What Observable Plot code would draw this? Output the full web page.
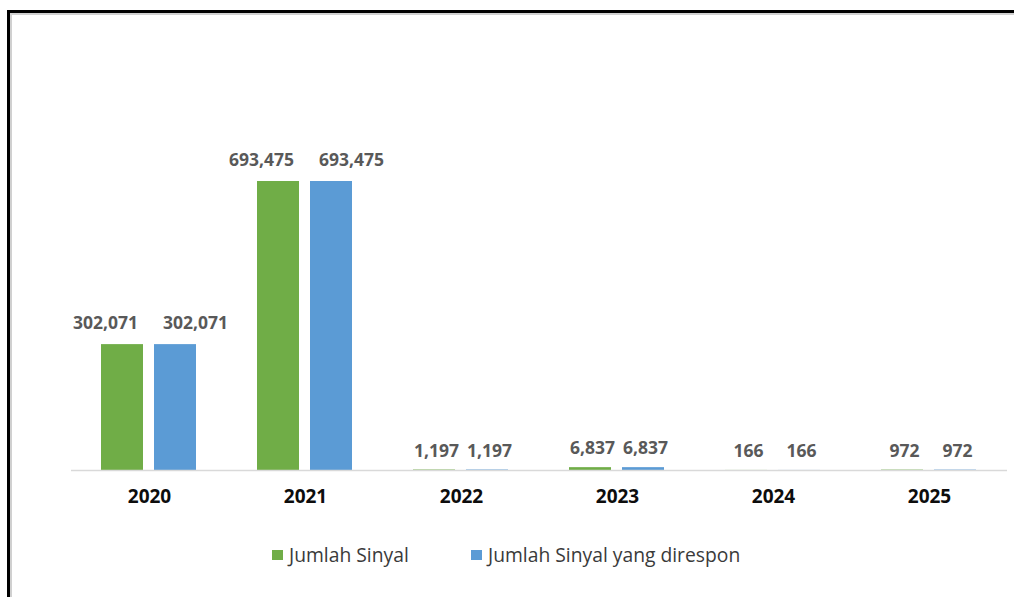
<!DOCTYPE html>
<html>
<head>
<meta charset="utf-8">
<script src="https://cdn.jsdelivr.net/npm/d3@7"></script>
<script src="https://cdn.jsdelivr.net/npm/@observablehq/plot@0.6"></script>
<style>
  html, body { margin: 0; padding: 0; background: #fff; overflow: hidden; }
  #wrap { position: relative; width: 1014px; height: 597px; font-family: "Open Sans", sans-serif; }
  #frame { position: absolute; left: 7px; top: 10px; width: 1100px; height: 700px;
           border-left: 3px solid #000; border-top: 3px solid #000;
           box-shadow: inset 2px 2px 0 #d0d0d0; pointer-events: none; }
  #chart { position: absolute; left: 0; top: 0; }
  #legend { position: absolute; left: 0; top: 530px; width: 1014px; height: 67px; }
  .item { position: absolute; top: 11px; display: flex; align-items: center; font-size: 19.3px; color: #3a3a3a; white-space: nowrap; }
  .sw { width: 11px; height: 10px; margin-right: 6px; }
</style>
</head>
<body>
<div id="wrap">
  <div id="chart"></div>
  <div id="legend"></div>
  <div id="frame"></div>
</div>
<script>
const years = ["2020", "2021", "2022", "2023", "2024", "2025"];
const seriesNames = ["Jumlah Sinyal", "Jumlah Sinyal yang direspon"];
const jumlahSinyal = [302071, 693475, 1197, 6837, 166, 972];
const jumlahDirespon = [302071, 693475, 1197, 6837, 166, 972];
const colors = ["#70ad47", "#5b9bd5"];

const data = [];
years.forEach((y, i) => {
  data.push({year: y, series: seriesNames[0], value: jumlahSinyal[i]});
  data.push({year: y, series: seriesNames[1], value: jumlahDirespon[i]});
});

const fmt = d3.format(",");
const big = d => d.value >= 100000;

const chart = Plot.plot({
  width: 1014,
  height: 530,
  marginLeft: 70,
  marginRight: 7,
  marginTop: 136.6,
  marginBottom: 60,
  style: {fontFamily: "Open Sans, sans-serif", background: "transparent"},
  fx: {domain: years, padding: 0, label: null},
  x: {domain: seriesNames, paddingInner: 0.2075, paddingOuter: 0.575, axis: null},
  y: {domain: [0, 800000], axis: null},
  color: {domain: seriesNames, range: colors},
  marks: [
    Plot.barY(data, {fx: "year", x: "series", y: "value", fill: "series"}),
    Plot.ruleY([0], {stroke: "#d9d9d9", strokeWidth: 1.5}),
    // labels for the tall bars, pushed apart to avoid overlap
    Plot.text(data.filter(d => big(d) && d.series === seriesNames[0]), {fx: "year", x: "series", y: "value", text: d => fmt(d.value), dy: -21, dx: -17, fill: "#595959", fontWeight: "bold", fontSize: 17.5}),
    Plot.text(data.filter(d => big(d) && d.series === seriesNames[1]), {fx: "year", x: "series", y: "value", text: d => fmt(d.value), dy: -21, dx: 20, fill: "#595959", fontWeight: "bold", fontSize: 17.5}),
    Plot.text(data.filter(d => !big(d)), {fx: "year", x: "series", y: "value", text: d => fmt(d.value), dy: -19, dx: 2, fill: "#595959", fontWeight: "bold", fontSize: 17.5}),
    Plot.axisFx({anchor: "bottom", tickSize: 0, tickPadding: 19, fontSize: 19, fontWeight: "bold", fill: "#0d0d0d", label: null})
  ]
});
document.getElementById("chart").appendChild(chart);

const legend = document.getElementById("legend");
const lefts = [272, 471];
seriesNames.forEach((name, i) => {
  const item = document.createElement("div");
  item.className = "item";
  item.style.left = lefts[i] + "px";
  const sw = document.createElement("span");
  sw.className = "sw";
  sw.style.background = colors[i];
  const t = document.createElement("span");
  t.textContent = name;
  item.appendChild(sw);
  item.appendChild(t);
  legend.appendChild(item);
});
</script>
</body>
</html>
